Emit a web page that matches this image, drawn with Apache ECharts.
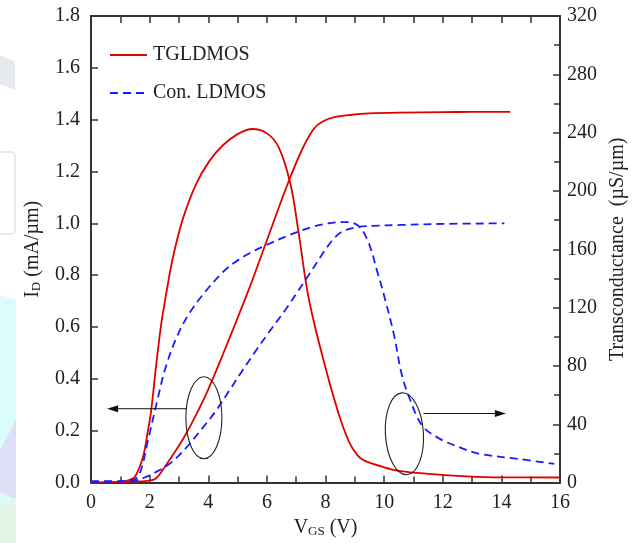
<!DOCTYPE html>
<html>
<head>
<meta charset="utf-8">
<script src="https://cdn.jsdelivr.net/npm/echarts@6/dist/echarts.min.js"></script>
<style>
  html, body { margin: 0; padding: 0; background: #fff; }
  #chart { width: 636px; height: 543px; }
</style>
</head>
<body>
<div id="chart"></div>
<script>
// x = V_GS (V); left axis I_D (mA/um); right axis gm (uS/um)
var tgIdV   = [0, 1, 1.5, 1.9, 2.2, 2.5, 2.8, 3.2, 3.6, 4.0, 4.5, 5.0, 5.4, 6.0, 6.7, 7.2, 7.6, 7.9, 8.3, 8.9, 9.5, 10.5, 12.0, 13.0, 14.3];
var tgId    = [0, 0.002, 0.004, 0.007, 0.015, 0.058, 0.108, 0.18, 0.265, 0.36, 0.495, 0.635, 0.75, 0.935, 1.15, 1.285, 1.365, 1.393, 1.41, 1.419, 1.424, 1.427, 1.429, 1.43, 1.43];

var tgGmV   = [0, 1.0, 1.3, 1.5, 1.77, 1.94, 2.05, 2.22, 2.39, 2.56, 2.79, 3.12, 3.58, 4.03, 4.48, 5.0, 5.5, 6.0, 6.4, 6.8, 7.07, 7.41, 7.86, 8.42, 8.8, 9.1, 9.33, 10.0, 10.56, 11.5, 12.82, 14.0, 16.0];
var tgGm    = [0, 0.5, 1.8, 4, 17.4, 35.4, 49, 80, 108, 129, 154, 180, 204.5, 220.3, 231, 239, 242.5, 239.5, 230, 205, 173, 128, 89.4, 48.9, 28, 18.5, 15.1, 10.5, 7.8, 6, 4.3, 3.6, 3.5];

var conIdV  = [0, 1.0, 1.5, 1.88, 2.2, 2.67, 3.0, 3.35, 3.8, 4.25, 4.7, 5.15, 5.6, 6.1, 6.62, 7.07, 7.45, 7.75, 8.05, 8.31, 8.6, 9.1, 9.6, 10.57, 12.0, 14.1];
var conId   = [0.003, 0.004, 0.008, 0.022, 0.04, 0.072, 0.105, 0.148, 0.21, 0.275, 0.352, 0.43, 0.505, 0.585, 0.665, 0.74, 0.805, 0.857, 0.908, 0.945, 0.97, 0.986, 0.99, 0.994, 0.998, 1.0];

var conGmV  = [0, 1.0, 1.43, 1.66, 1.94, 2.28, 2.56, 2.95, 3.35, 3.86, 4.48, 4.9, 5.38, 5.94, 6.73, 7.5, 8.09, 8.65, 9.1, 9.44, 9.78, 10.0, 10.34, 10.6, 10.88, 11.3, 11.9, 12.6, 13.25, 14.6, 15.8];
var conGm   = [1, 1, 1.8, 6, 28.6, 58, 80, 101, 116, 130, 144, 151, 157, 162.5, 169.5, 175, 177.8, 178.7, 176.4, 166, 143.6, 128, 100.8, 74, 57, 39, 30, 24, 19.7, 16.2, 12.8];

var legendNames = ['TGLDMOS', 'Con. LDMOS'];

function zip(xs, ys) {
    return xs.map(function (x, i) { return [x, ys[i]]; });
}

var FONT = 'Liberation Serif';
var RED = '#e00000', BLUE = '#1a1aff', AXIS = '#333';

var chart = echarts.init(document.getElementById('chart'));

var tickStyle = { show: true, inside: true, length: 7, lineStyle: { color: AXIS, width: 1.5 } };
var lineAxis = { show: true, onZero: false, lineStyle: { color: AXIS, width: 2 } };
var labelStyle = { color: '#222', fontFamily: FONT, fontSize: 20 };
var subRich = {
    v: { fontFamily: FONT, fontSize: 20, color: '#222' },
    s: { fontFamily: FONT, fontSize: 13, color: '#222', verticalAlign: 'bottom', padding: [8, 0, 0, 0] }
};

var option = {
    animation: false,
    backgroundColor: '#fff',
    grid: { left: 91, right: 72, top: 16, bottom: 54 },
    xAxis: [
        {
            type: 'value', min: 0, max: 16, interval: 2, position: 'bottom',
            axisLine: lineAxis, axisTick: tickStyle,
            minorTick: { show: true, splitNumber: 2, length: 6, lineStyle: { color: AXIS, width: 1.5 } },
            splitLine: { show: false },
            axisLabel: Object.assign({ margin: 10 }, labelStyle),
            name: '{v|V}{s|GS}{v| (V)}',
            nameLocation: 'middle',
            nameGap: 30,
            nameTextStyle: { rich: subRich }
        },
        {
            type: 'value', min: 0, max: 16, interval: 1, position: 'top',
            axisLine: lineAxis, axisTick: tickStyle,
            splitLine: { show: false }, axisLabel: { show: false }
        }
    ],
    yAxis: [
        {
            type: 'value', min: 0, max: 1.8, interval: 0.2, position: 'left',
            axisLine: lineAxis, axisTick: tickStyle,
            splitLine: { show: false },
            axisLabel: Object.assign({ margin: 11, formatter: function (v) { return v.toFixed(1); } }, labelStyle),
            name: '{v|I}{s|D}{v| (mA/\u00b5m)}',
            nameLocation: 'middle',
            nameRotate: 90,
            nameGap: 48,
            nameTextStyle: { rich: subRich }
        },
        {
            type: 'value', min: 0, max: 320, interval: 40, position: 'right',
            axisLine: lineAxis, axisTick: tickStyle,
            minorTick: { show: true, splitNumber: 2, length: 6, lineStyle: { color: AXIS, width: 1.5 } },
            splitLine: { show: false },
            axisLabel: Object.assign({ margin: 7 }, labelStyle),
            name: 'Transconductance  (\u00b5S/\u00b5m)',
            nameLocation: 'middle',
            nameRotate: 90,
            nameGap: 42,
            nameTextStyle: { fontFamily: FONT, fontSize: 20, color: '#222' }
        }
    ],
    series: [
        {
            name: legendNames[0], type: 'line', xAxisIndex: 0, yAxisIndex: 0,
            data: zip(tgIdV, tgId), symbol: 'none', smooth: 0.35,
            lineStyle: { color: RED, width: 1.8 }
        },
        {
            name: legendNames[0], type: 'line', xAxisIndex: 0, yAxisIndex: 1,
            data: zip(tgGmV, tgGm), symbol: 'none', smooth: 0.35,
            lineStyle: { color: RED, width: 1.8 }
        },
        {
            name: legendNames[1], type: 'line', xAxisIndex: 0, yAxisIndex: 0,
            data: zip(conIdV, conId), symbol: 'none', smooth: 0.35,
            lineStyle: { color: BLUE, width: 1.8, type: [8, 5] }
        },
        {
            name: legendNames[1], type: 'line', xAxisIndex: 0, yAxisIndex: 1,
            data: zip(conGmV, conGm), symbol: 'none', smooth: 0.35,
            lineStyle: { color: BLUE, width: 1.8, type: [8, 5] }
        }
    ]
};
chart.setOption(option);

// annotation ellipses + arrows, placed from data coords
function px(v, y, axis) {
    return chart.convertToPixel({ xAxisIndex: 0, yAxisIndex: axis }, [v, y]);
}
function arrow(from, to) {
    var dir = to[0] > from[0] ? 1 : -1;
    return [
        { type: 'line', shape: { x1: from[0], y1: from[1], x2: to[0] - dir * 8, y2: to[1] },
          style: { stroke: '#111', lineWidth: 1 }, z: 10 },
        { type: 'polygon', shape: { points: [[to[0], to[1]], [to[0] - dir * 11, to[1] - 3.5], [to[0] - dir * 11, to[1] + 3.5]] },
          style: { fill: '#111' }, z: 10 }
    ];
}
// legend drawn by hand: solid / dashed line sample + label
function legendItem(y, name, color, dash) {
    return [
        { type: 'line', shape: { x1: 110, y1: y, x2: 147, y2: y },
          style: { stroke: color, lineWidth: 1.8, lineDash: dash }, z: 10 },
        { type: 'text', x: 153, y: y, style: { text: name, fill: '#222', font: '20px "' + FONT + '"', textVerticalAlign: 'middle' }, z: 10 }
    ];
}
var lc = px(3.85, 0.25, 0);
var rc = px(10.69, 33.5, 1);
var g = [
    // faint watermark strip at the left edge
    { type: 'polygon', shape: { points: [[0, 55], [15, 62], [15, 90], [0, 84]] }, style: { fill: '#e6eaee' }, z: -1 },
    { type: 'rect', shape: { x: -8, y: 152, width: 23, height: 82, r: 4 }, style: { fill: 'none', stroke: '#dfe4ea', lineWidth: 1.5 }, z: -1 },
    { type: 'polygon', shape: { points: [[0, 295], [16, 300], [16, 543], [0, 543]] }, style: { fill: '#dcfbfb' }, z: -1 },
    { type: 'polygon', shape: { points: [[0, 450], [16, 420], [16, 500], [0, 492]] }, style: { fill: '#dcdff5' }, z: -1 },
    { type: 'polygon', shape: { points: [[0, 505], [16, 497], [16, 543], [0, 543]] }, style: { fill: '#e3f7e8' }, z: -1 },
    { type: 'ellipse', shape: { cx: lc[0], cy: lc[1], rx: 18, ry: 41 }, style: { fill: 'none', stroke: '#222', lineWidth: 1.1 }, z: 10 },
    { type: 'ellipse', shape: { cx: rc[0], cy: rc[1], rx: 19, ry: 41 }, rotation: 0.06, originX: rc[0], originY: rc[1], style: { fill: 'none', stroke: '#222', lineWidth: 1.1 }, z: 10 }
];
g = g.concat(arrow(px(3.24, 0.285, 0), px(0.55, 0.285, 0)));
g = g.concat(arrow(px(11.34, 47.4, 1), px(14.15, 47.4, 1)));
g = g.concat(legendItem(55, legendNames[0], RED, null));
g = g.concat(legendItem(93, legendNames[1], BLUE, [8, 5]));
chart.setOption({ graphic: g });
</script>
</body>
</html>
